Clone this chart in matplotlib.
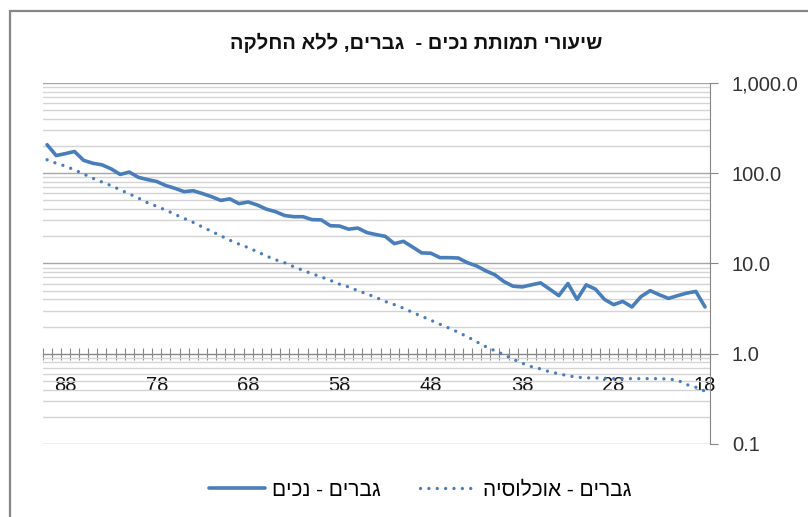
import matplotlib
matplotlib.use("Agg")
import matplotlib.pyplot as plt
import matplotlib.patches as mpatches
from matplotlib.ticker import FixedLocator, FuncFormatter, LogLocator, NullFormatter

plt.rcParams['font.family'] = ['Liberation Sans', 'DejaVu Sans']

TITLE = "שיעורי תמותת נכים -  גברים, ללא החלקה"
LABEL_DISABLED = "גברים - נכים"
LABEL_POPULATION = "גברים - אוכלוסיה"


def rtl(s):
    # matplotlib has no bidi support, so put Hebrew text in visual order
    return s[::-1]


# ages run from 90 down to 18
ages = list(range(90, 17, -1))

disabled = [207, 157, 165, 174, 139, 129, 124, 112, 97, 103,
            90, 85, 81, 73, 68, 62.5, 64, 59.5, 55, 50,
            52, 46, 48, 44.5, 40, 37.5, 34, 33, 33, 30.6,
            30.4, 26.2, 26, 24, 24.7, 22, 20.9, 20, 16.6, 17.6,
            15.2, 13.1, 13, 11.6, 11.6, 11.5, 10.2, 9.4, 8.3, 7.5,
            6.3, 5.6, 5.5, 5.8, 6.1, 5.2, 4.4, 6.0, 4.0, 5.8,
            5.2, 4.0, 3.5, 3.8, 3.3, 4.3, 5.0, 4.5, 4.1, 4.4,
            4.7, 4.9, 3.3]

population = [141, 129, 120, 109, 98, 88, 80, 73, 65.5, 59,
              53, 47, 43, 39, 35, 31.6, 28.5, 25.4, 22.7, 20.3,
              18.1, 16.4, 15.0, 13.5, 12.1, 11.0, 10.2, 9.2, 8.4, 7.7,
              7.1, 6.5, 5.9, 5.5, 5.0, 4.6, 4.2, 3.8, 3.5, 3.2,
              2.87, 2.6, 2.35, 2.12, 1.92, 1.73, 1.54, 1.36, 1.2, 1.08,
              0.975, 0.87, 0.785, 0.72, 0.68, 0.63, 0.60, 0.57, 0.55, 0.54,
              0.54, 0.535, 0.53, 0.53, 0.53, 0.53, 0.53, 0.53, 0.525, 0.51,
              0.455, 0.425, 0.385]

label_ages = [88, 78, 68, 58, 48, 38, 28, 18]

BLUE = '#4a7ebb'
GRAY = '#868686'

fig = plt.figure(figsize=(8.08, 5.17), dpi=100)

# chart area border (only left and top fall inside the picture)
fig.patches.append(mpatches.Rectangle((10 / 808, -0.2), 1.2, 1.2 - 11 / 517,
                                      transform=fig.transFigure, fill=False,
                                      edgecolor=GRAY, lw=1.6))

ax = fig.add_axes([0.0526, 0.1412, 0.8256, 0.6983])
ax.set_yscale('log')
ax.set_ylim(0.1, 1000)
ax.set_xlim(90.5, 17.5)

ax.plot(ages, disabled, color=BLUE, lw=2.6, solid_joinstyle='round',
        solid_capstyle='round', label=rtl(LABEL_DISABLED), zorder=3)
ax.plot(ages, population, color=BLUE, lw=2.4, linestyle=(0, (0.01, 2.5)),
        dash_capstyle='round', label=rtl(LABEL_POPULATION), zorder=3)

# y axis on the right, log gridlines
ax.yaxis.set_major_locator(LogLocator(base=10, numticks=10))
ax.yaxis.set_minor_locator(LogLocator(base=10, subs=range(2, 10), numticks=20))
ax.yaxis.set_major_formatter(FuncFormatter(lambda v, _: f"{v:,.1f}"))
ax.yaxis.set_minor_formatter(NullFormatter())
ax.yaxis.tick_right()
ax.tick_params(axis='y', which='major', direction='out', length=6, color=GRAY,
               pad=10, labelsize=14.5, labelcolor='#333333')
ax.tick_params(axis='y', which='minor', length=0)
ax.grid(which='major', axis='y', color='#a6a6a6', lw=1)
ax.grid(which='minor', axis='y', color='#d4d4d4', lw=1)
ax.set_axisbelow(True)

for side in ['left', 'top']:
    ax.spines[side].set_visible(False)
ax.spines['right'].set_color(GRAY)
ax.spines['bottom'].set_position(('data', 1.0))
ax.spines['bottom'].set_color(GRAY)

# category axis crossing at 1.0
ax.xaxis.set_major_locator(FixedLocator(label_ages))
ax.set_xticklabels([str(a) for a in label_ages])
ax.xaxis.set_minor_locator(FixedLocator([a + 0.5 for a in range(17, 91)]))
ax.tick_params(axis='x', which='major', length=0, pad=16, labelsize=14.5,
               labelcolor='#111111')
ax.tick_params(axis='x', which='minor', direction='inout', length=8,
               width=0.8, color=GRAY)

fig.text(0.515, 1 - 43 / 517, rtl(TITLE), ha='center', va='center',
         fontsize=14.5, fontweight='bold', color='#111111')

fig.legend(loc='center', bbox_to_anchor=(0.52, 0.052), ncol=2, frameon=False,
           fontsize=15, handlelength=2.7, columnspacing=1.9, handletextpad=0.3)

fig.savefig('out.png', dpi=100)
